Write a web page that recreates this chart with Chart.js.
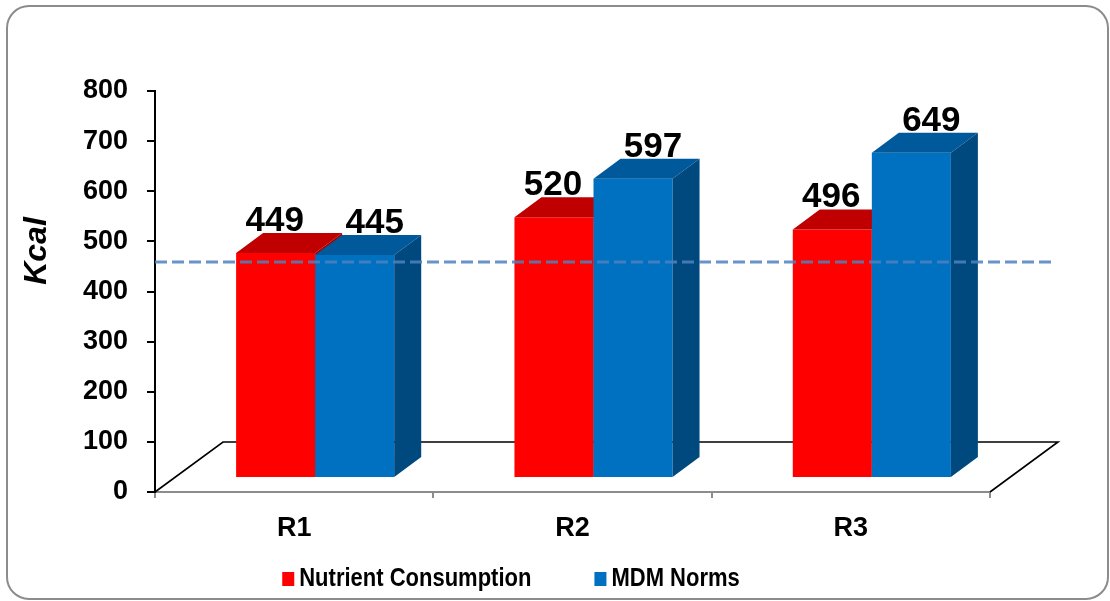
<!DOCTYPE html>
<html>
<head>
<meta charset="utf-8">
<script src="https://cdn.jsdelivr.net/npm/chart.js@4.4.1/dist/chart.umd.min.js"></script>
<style>
  html, body { margin: 0; padding: 0; background: #ffffff; }
  #wrap { width: 1110px; height: 601px; position: relative; }
</style>
</head>
<body>
<div id="wrap"><canvas id="chart" width="1110" height="601"></canvas></div>
<script>
// Energy intake per region compared with the MDM norms (Kcal)
const categories = ['R1', 'R2', 'R3'];
const nutrientConsumption = [449, 520, 496];
const mdmNorms = [445, 597, 649];
const yTickValues = [0, 100, 200, 300, 400, 500, 600, 700, 800];
const normLine = 459;
const seriesNames = ['Nutrient Consumption', 'MDM Norms'];

const FONT = "'Liberation Sans', Arial, sans-serif";

// pseudo-3D geometry (pixels)
const FLOOR = { dx: 68, dy: -50 };     // depth of the floor plane
const FRONT = { dx: 21, dy: -14 };     // where the bar fronts sit inside the floor
const DEPTH = { dx: 27, dy: -20 };     // depth of each column

const faceColors = [
  { top: '#C00000', side: '#A00000', labelShift: -1 },
  { top: '#00599A', side: '#00497F', labelShift: 20 }
];

const threeD = {
  id: 'threeD',
  beforeDatasetsDraw(chart) {
    const ctx = chart.ctx;
    const area = chart.chartArea;
    const yScale = chart.scales.y;
    const y0 = yScale.getPixelForValue(0);

    // floor outline
    ctx.save();
    ctx.strokeStyle = '#000000';
    ctx.lineWidth = 1.6;
    ctx.beginPath();
    ctx.moveTo(area.left, y0);
    ctx.lineTo(area.left + FLOOR.dx, y0 + FLOOR.dy);
    ctx.lineTo(area.right + FLOOR.dx, y0 + FLOOR.dy);
    ctx.lineTo(area.right, y0);
    ctx.stroke();
    ctx.restore();

    // columns: front face by Chart.js, then top and side faces
    ctx.save();
    ctx.translate(FRONT.dx, FRONT.dy);
    const metas = chart.data.datasets.map((d, i) => chart.getDatasetMeta(i));
    for (let j = 0; j < chart.data.labels.length; j++) {
      metas.forEach((meta, i) => {
        const el = meta.data[j];
        if (!el) return;
        const left = el.x - el.width / 2;
        const right = el.x + el.width / 2;
        const top = el.y;
        const base = el.base;
        el.draw(ctx, area);
        ctx.fillStyle = faceColors[i].top;
        ctx.beginPath();
        ctx.moveTo(left, top);
        ctx.lineTo(left + DEPTH.dx, top + DEPTH.dy);
        ctx.lineTo(right + DEPTH.dx, top + DEPTH.dy);
        ctx.lineTo(right, top);
        ctx.closePath();
        ctx.fill();
        ctx.fillStyle = faceColors[i].side;
        ctx.beginPath();
        ctx.moveTo(right, top);
        ctx.lineTo(right + DEPTH.dx, top + DEPTH.dy);
        ctx.lineTo(right + DEPTH.dx, base + DEPTH.dy);
        ctx.lineTo(right, base);
        ctx.closePath();
        ctx.fill();
      });
    }
    ctx.restore();
    return false;
  },
  afterDraw(chart) {
    const ctx = chart.ctx;
    const area = chart.chartArea;
    const yScale = chart.scales.y;

    // dashed norm line
    const yn = yScale.getPixelForValue(normLine);
    ctx.save();
    ctx.strokeStyle = 'rgba(79,129,189,0.85)';
    ctx.lineWidth = 3;
    ctx.setLineDash([12, 5]);
    ctx.beginPath();
    ctx.moveTo(area.left, yn);
    ctx.lineTo(area.right + FLOOR.dx - 6, yn);
    ctx.stroke();
    ctx.restore();

    // value labels above the columns
    ctx.save();
    ctx.fillStyle = '#000000';
    ctx.font = 'bold 35px ' + FONT;
    ctx.textAlign = 'center';
    ctx.textBaseline = 'alphabetic';
    chart.data.datasets.forEach((ds, i) => {
      const meta = chart.getDatasetMeta(i);
      meta.data.forEach((el, j) => {
        const x = el.x + FRONT.dx + faceColors[i].labelShift;
        const y = el.y + FRONT.dy + DEPTH.dy - 2;
        ctx.fillText(String(ds.data[j]), x, y);
      });
    });
    ctx.restore();

    // axis title
    ctx.save();
    ctx.translate(37, 251);
    ctx.rotate(-Math.PI / 2);
    ctx.font = 'italic bold 32px ' + FONT;
    ctx.fillStyle = '#000000';
    ctx.textAlign = 'center';
    ctx.textBaseline = 'middle';
    ctx.fillText('Kcal', 0, 0);
    ctx.restore();

    // legend (slightly condensed lettering)
    ctx.save();
    ctx.font = 'bold 25px ' + FONT;
    ctx.textBaseline = 'middle';
    const squeeze = 0.88;
    const box = 12, gap = 5, spacing = 63;
    const widths = chart.data.datasets.map(d => ctx.measureText(d.label).width * squeeze);
    let total = 0;
    widths.forEach((w, i) => { total += box + gap + w + (i ? spacing : 0); });
    let x = 511 - total / 2;
    const ly = 579;
    chart.data.datasets.forEach((d, i) => {
      ctx.fillStyle = d.backgroundColor;
      ctx.fillRect(x, ly - 7, box, 14);
      ctx.fillStyle = '#000000';
      ctx.save();
      ctx.translate(x + box + gap, ly);
      ctx.scale(squeeze, 1);
      ctx.fillText(d.label, 0, 0);
      ctx.restore();
      x += box + gap + widths[i] + spacing;
    });
    ctx.restore();

    // rounded frame
    ctx.save();
    ctx.strokeStyle = '#8C8C8C';
    ctx.lineWidth = 2;
    ctx.beginPath();
    ctx.roundRect(7, 6, 1101, 593, 22);
    ctx.stroke();
    ctx.restore();
  }
};

new Chart(document.getElementById('chart'), {
  type: 'bar',
  data: {
    labels: categories,
    datasets: [
      { label: seriesNames[0], data: nutrientConsumption, backgroundColor: '#FF0000', borderWidth: 0 },
      { label: seriesNames[1], data: mdmNorms, backgroundColor: '#0070C0', borderWidth: 0 }
    ]
  },
  options: {
    responsive: false,
    animation: false,
    devicePixelRatio: 1,
    layout: { padding: { left: 0, top: 91, right: 120, bottom: 49 } },
    datasets: { bar: { barPercentage: 1.0, categoryPercentage: 0.568 } },
    plugins: {
      legend: { display: false },
      tooltip: { enabled: false },
      title: { display: false }
    },
    scales: {
      x: {
        offset: true,
        grid: { display: true, drawOnChartArea: false, drawTicks: true, tickLength: 6, color: '#8C8C8C', lineWidth: 2, offset: true },
        border: { display: true, color: '#8C8C8C', width: 2 },
        ticks: { color: '#000000', font: { family: FONT, size: 27, weight: 'bold' }, padding: 14, maxRotation: 0 },
        afterFit(scale) { scale.height = 60; }
      },
      y: {
        min: 0,
        max: 800,
        afterBuildTicks(scale) { scale.ticks = yTickValues.map(v => ({ value: v })); },
        grid: { display: true, drawOnChartArea: false, drawTicks: true, tickLength: 8, color: '#000000', lineWidth: 2 },
        border: { display: true, color: '#000000', width: 2 },
        ticks: { color: '#000000', font: { family: FONT, size: 27, weight: 'bold' }, padding: 19 },
        afterFit(scale) { scale.width = 155; }
      }
    }
  },
  plugins: [threeD]
});
</script>
</body>
</html>
